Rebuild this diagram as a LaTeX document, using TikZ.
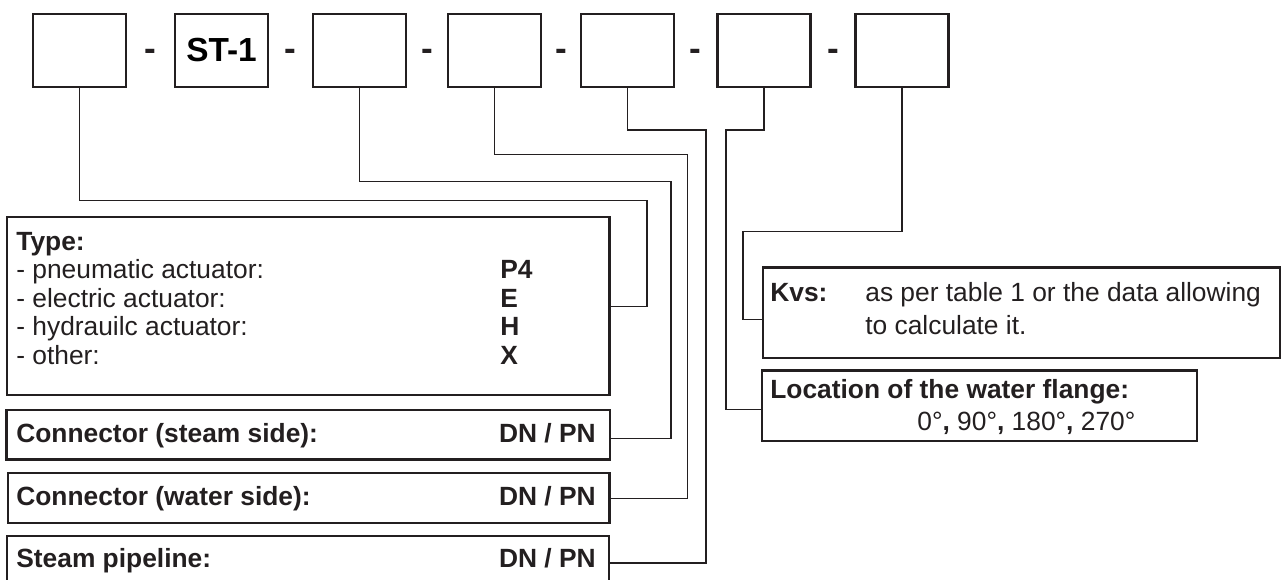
\documentclass[tikz,border=0pt]{standalone}
\usepackage{fontspec}
\setmainfont{Liberation Sans}
\usetikzlibrary{calc}
\definecolor{ink}{RGB}{35,31,32}
\tikzstyle{cell} = [rectangle, draw=ink, line width=1.2pt, minimum width=1.86cm, minimum height=1.46cm, inner sep=0]
\tikzstyle{panel} = [rectangle, draw=ink, line width=1.2pt, inner sep=0]
\tikzstyle{link} = [draw=ink, line width=0.9pt]
\tikzstyle{txt} = [anchor=base west, inner sep=0, text=ink, font=\fontsize{15}{18}\selectfont]
\tikzstyle{btxt} = [txt, font=\fontsize{15}{18}\selectfont\bfseries]

\begin{document}
\begin{tikzpicture}[x=0.02cm,y=-0.02cm]
\clip (0,0) rectangle (1281,579);
% code boxes
\node[cell] (b1) at (79.5,50.5) {};
\node[cell] (b2) at (221.5,50.5) {\fontsize{19}{22}\selectfont\bfseries ST-1};
\node[cell] (b3) at (359.5,50.5) {};
\node[cell] (b4) at (494.5,50.5) {};
\node[cell] (b5) at (627.5,50.5) {};
\node[cell] (b6) at (764,50.5) {};
\node[cell] (b7) at (902,50.5) {};
\foreach \a/\b in {b1/b2,b2/b3,b3/b4,b4/b5,b5/b6,b6/b7}
  \node[btxt,anchor=base,font=\fontsize{20}{24}\selectfont\bfseries] (d\a) at ($(\a.east)!.5!(\b.west)+(0,9.5)$) {-};

% description boxes
\node[panel, minimum width=12.06cm, minimum height=3.56cm] (type) at (308,306.4) {};
\node[panel, minimum width=12.07cm, minimum height=0.99cm] (steam) at (308.2,434.7) {};
\node[panel, minimum width=12.04cm, minimum height=1cm] (water) at (308.5,498.3) {};
\node[panel, minimum width=12.04cm, minimum height=1.08cm] (pipe) at (308,563) {};
\node[panel, minimum width=10.35cm, minimum height=1.804cm] (kvs) at (1021.25,312.6) {};
\node[panel, minimum width=8.712cm, minimum height=1.404cm] (loc) at (979.5,405.6) {};

\node[btxt] (typeT) at (16,250) {Type:};
\node[txt] (pneu) at (16,278.5) {- pneumatic actuator:};
\node[txt] (elec) at (16,307) {- electric actuator:};
\node[txt] (hydr) at (16,335.5) {- hydrauilc actuator:};
\node[txt] (oth) at (16,364) {- other:};
\node[btxt] (vP) at (500,278.5) {P4};
\node[btxt] (vE) at (500,307) {E};
\node[btxt] (vH) at (500,335.5) {H};
\node[btxt] (vX) at (500,364) {X};

\node[btxt] (steamL) at (16,442) {Connector (steam side):};
\node[btxt,anchor=base east] (steamR) at (596,442) {DN / PN};
\node[btxt] (waterL) at (16,505) {Connector (water side):};
\node[btxt,anchor=base east] (waterR) at (596,505) {DN / PN};
\node[btxt] (pipeL) at (16,567) {Steam pipeline:};
\node[btxt,anchor=base east] (pipeR) at (596,567) {DN / PN};

\node[btxt] (kvsL) at (770,301.7) {Kvs:};
\node[txt] (kvs1) at (865,301.7) {as per table 1 or the data allowing};
\node[txt] (kvs2) at (865,334) {to calculate it.};
\node[btxt] (locL) at (770,398.3) {Location of the water flange:};
\node[txt] (locV) at (917,430) {0°{\bfseries,} 90°{\bfseries,} 180°{\bfseries,} 270°};

% leaders
\coordinate (h1) at (647,200.7);
\coordinate (h3) at (671,181.7);
\coordinate (h4) at (687.7,154.3);
\coordinate (h5) at (706,130);
\coordinate (h6) at (726,130);
\coordinate (h7) at (742.7,231.7);
\coordinate (sin) at (0,438.3);
\coordinate (lin) at (0,409.3);
\coordinate (kin) at (0,319.3);
\draw[link] (b1.south) |- (h1) |- (type.east);
\draw[link] (b3.south) |- (h3) |- (steam.east |- sin);
\draw[link] (b4.south) |- (h4) |- (water.east);
\draw[link] (b5.south) |- (h5) |- (pipe.east);
\draw[link] (b6.south) |- (h6) |- (loc.west |- lin);
\draw[link] (b7.south) |- (h7) |- (kvs.west |- kin);
\end{tikzpicture}
\end{document}
